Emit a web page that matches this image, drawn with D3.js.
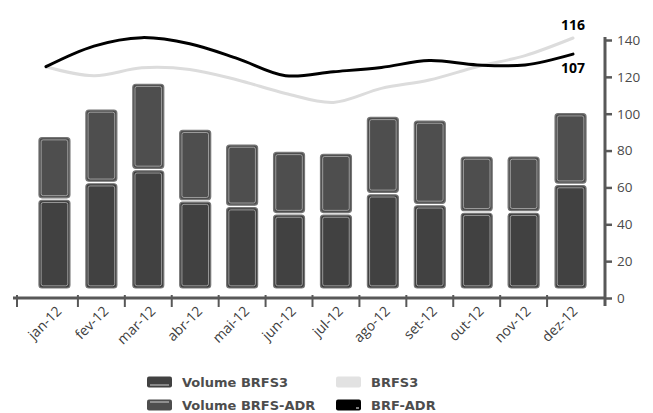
<!DOCTYPE html>
<html>
<head>
<meta charset="utf-8">
<script src="https://cdn.jsdelivr.net/npm/d3@7/dist/d3.min.js"></script>
<style>
  html, body { margin: 0; padding: 0; background: #fff; }
  svg { display: block; }
  text { font-family: "Open Sans", "Noto Sans", sans-serif; }
</style>
</head>
<body>
<svg id="chart" width="653" height="413"></svg>
<script>
// ---- data ----
const months = ["jan-12","fev-12","mar-12","abr-12","mai-12","jun-12","jul-12","ago-12","set-12","out-12","nov-12","dez-12"];
const volumeBRFS3 = [53, 62, 69, 52, 49, 45, 45, 56, 50, 46, 46, 61];
const volumeTotal = [87, 102, 116, 91, 83, 79, 78, 98, 96, 76.5, 76.5, 100];
const volumeADR = volumeTotal.map((t, i) => t - volumeBRFS3[i]);
const priceBRFS3 = [100, 95, 99.4, 98.5, 92.6, 85.1, 80.1, 87.9, 92.6, 100, 106.2, 116];
const priceADR = [100, 111.5, 116.2, 112.8, 104.5, 95, 97.2, 99.6, 103.4, 101, 101, 107];
const yTicks = [0, 20, 40, 60, 80, 100, 120, 140];
const seriesNames = ["Volume BRFS3", "Volume BRFS-ADR", "BRFS3", "BRF-ADR"];

// ---- layout ----
const svg = d3.select("#chart");
const axisColor = "#585858";
const colLower = "#414141", colUpper = "#4e4e4e", colGray = "#dcdcdc", colBlack = "#000";

const x = d3.scaleBand().domain(months).range([31, 594]).paddingInner(0.34).paddingOuter(0.17);
const y = d3.scaleLinear().domain([0, 140]).range([298, 40]);
const xl = d3.scalePoint().domain(months).range([46, 573]);
const yl = d3.scaleLinear().domain([100, 116]).range([66.7, 38]);

const bw = x.bandwidth();
const base = y(0) - 10;

// ---- bars ----
function barSeg(g, x0, y0, y1, fill) {
  const h = y1 - y0;
  g.append("rect").attr("x", x0).attr("y", y0).attr("width", bw).attr("height", h)
    .attr("rx", 3).attr("fill", fill).attr("stroke", "#767676").attr("stroke-width", 1.2);
  g.append("rect").attr("x", x0 + 2.2).attr("y", y0 + 2.2).attr("width", bw - 4.4).attr("height", Math.max(0, h - 4.4))
    .attr("rx", 2).attr("fill", "none").attr("stroke", "#c8c8c8").attr("stroke-width", 0.8).attr("opacity", 0.8);
}
const bars = svg.append("g");
months.forEach((m, i) => {
  const g = bars.append("g");
  barSeg(g, x(m), y(volumeBRFS3[i]), base, colLower);
  barSeg(g, x(m), y(volumeTotal[i]), y(volumeBRFS3[i]) - 2.5, colUpper);
});

// ---- lines ----
const line = d3.line().x((d, i) => xl(months[i])).y(d => yl(d)).curve(d3.curveCatmullRom.alpha(0.5));
svg.append("path").datum(priceBRFS3).attr("d", line).attr("fill", "none")
  .attr("stroke", colGray).attr("stroke-width", 3).attr("stroke-linecap", "round");
svg.append("path").datum(priceADR).attr("d", line).attr("fill", "none")
  .attr("stroke", colBlack).attr("stroke-width", 3).attr("stroke-linecap", "round");

// end labels
svg.append("text").attr("x", xl(months[11]) + 12).attr("y", yl(priceBRFS3[11]) - 8)
  .attr("text-anchor", "end").attr("font-size", 14).attr("font-weight", 700).attr("fill", "#000")
  .text(d3.format("d")(priceBRFS3[11]));
svg.append("text").attr("x", xl(months[11]) + 12).attr("y", yl(priceADR[11]) + 19)
  .attr("text-anchor", "end").attr("font-size", 14).attr("font-weight", 700).attr("fill", "#000")
  .text(d3.format("d")(priceADR[11]));

// ---- y axis (right) ----
const yAxis = d3.axisRight(y).tickValues(yTicks).tickSize(7).tickPadding(5);
const gy = svg.append("g").attr("transform", "translate(605,0)").call(yAxis);
gy.select(".domain").remove();
gy.selectAll(".tick line").attr("stroke", axisColor).attr("stroke-width", 2.5);
gy.selectAll(".tick text").attr("font-size", 13.5).attr("fill", "#4a4a4a")
  .style("font-family", "'Open Sans', sans-serif");
gy.append("line").attr("x1", 0).attr("x2", 0).attr("y1", y(140) - 3).attr("y2", y(0) + 8)
  .attr("stroke", axisColor).attr("stroke-width", 3);

// ---- x axis ----
const gx = svg.append("g");
gx.append("line").attr("x1", 13).attr("x2", 605).attr("y1", y(0)).attr("y2", y(0))
  .attr("stroke", axisColor).attr("stroke-width", 3);
const step = x.step();
const tickXs = [17].concat(months.slice(1).map(m => x(m) - (step - bw) / 2));
gx.selectAll("line.tk").data(tickXs).join("line").attr("class", "tk")
  .attr("x1", d => d).attr("x2", d => d).attr("y1", y(0) - 3).attr("y2", y(0) + 9)
  .attr("stroke", axisColor).attr("stroke-width", 2);
gx.selectAll("text.xl").data(months).join("text").attr("class", "xl")
  .attr("transform", d => `translate(${x(d) + bw / 2 + 8},312) rotate(-45)`)
  .attr("text-anchor", "end").attr("font-size", 14).attr("fill", "#404040")
  .text(d => d);

// ---- legend ----
const legend = svg.append("g");
const legItems = [
  {name: seriesNames[0], fill: colLower, line: "bottom", lx: 147, ty: 382},
  {name: seriesNames[1], fill: colUpper, line: "top", lx: 147, ty: 405},
  {name: seriesNames[2], fill: "#e2e2e2", line: "none", lx: 336, ty: 382},
  {name: seriesNames[3], fill: "#000", line: "black", lx: 336, ty: 405}
];
legItems.forEach(it => {
  const g = legend.append("g");
  g.append("rect").attr("x", it.lx).attr("y", it.ty - 5.5).attr("width", 25).attr("height", 11)
    .attr("rx", 2).attr("fill", it.fill);
  if (it.line === "bottom") {
    g.append("line").attr("x1", it.lx + 3).attr("x2", it.lx + 22).attr("y1", it.ty + 3).attr("y2", it.ty + 3)
      .attr("stroke", "#cfcfcf").attr("stroke-width", 1);
  } else if (it.line === "top") {
    g.append("line").attr("x1", it.lx + 3).attr("x2", it.lx + 22).attr("y1", it.ty - 3).attr("y2", it.ty - 3)
      .attr("stroke", "#cfcfcf").attr("stroke-width", 1);
  } else if (it.line === "black") {
    g.append("line").attr("x1", it.lx + 20).attr("x2", it.lx + 23).attr("y1", it.ty + 3).attr("y2", it.ty + 3)
      .attr("stroke", "#ffffff").attr("stroke-width", 1);
  }
  g.append("text").attr("x", it.lx + 35).attr("y", it.ty).attr("dy", "0.36em")
    .style("font-family", "'DejaVu Sans', sans-serif")
    .attr("font-size", 13).attr("font-weight", 700).attr("fill", "#4d4d4d").text(it.name);
});
</script>
</body>
</html>
